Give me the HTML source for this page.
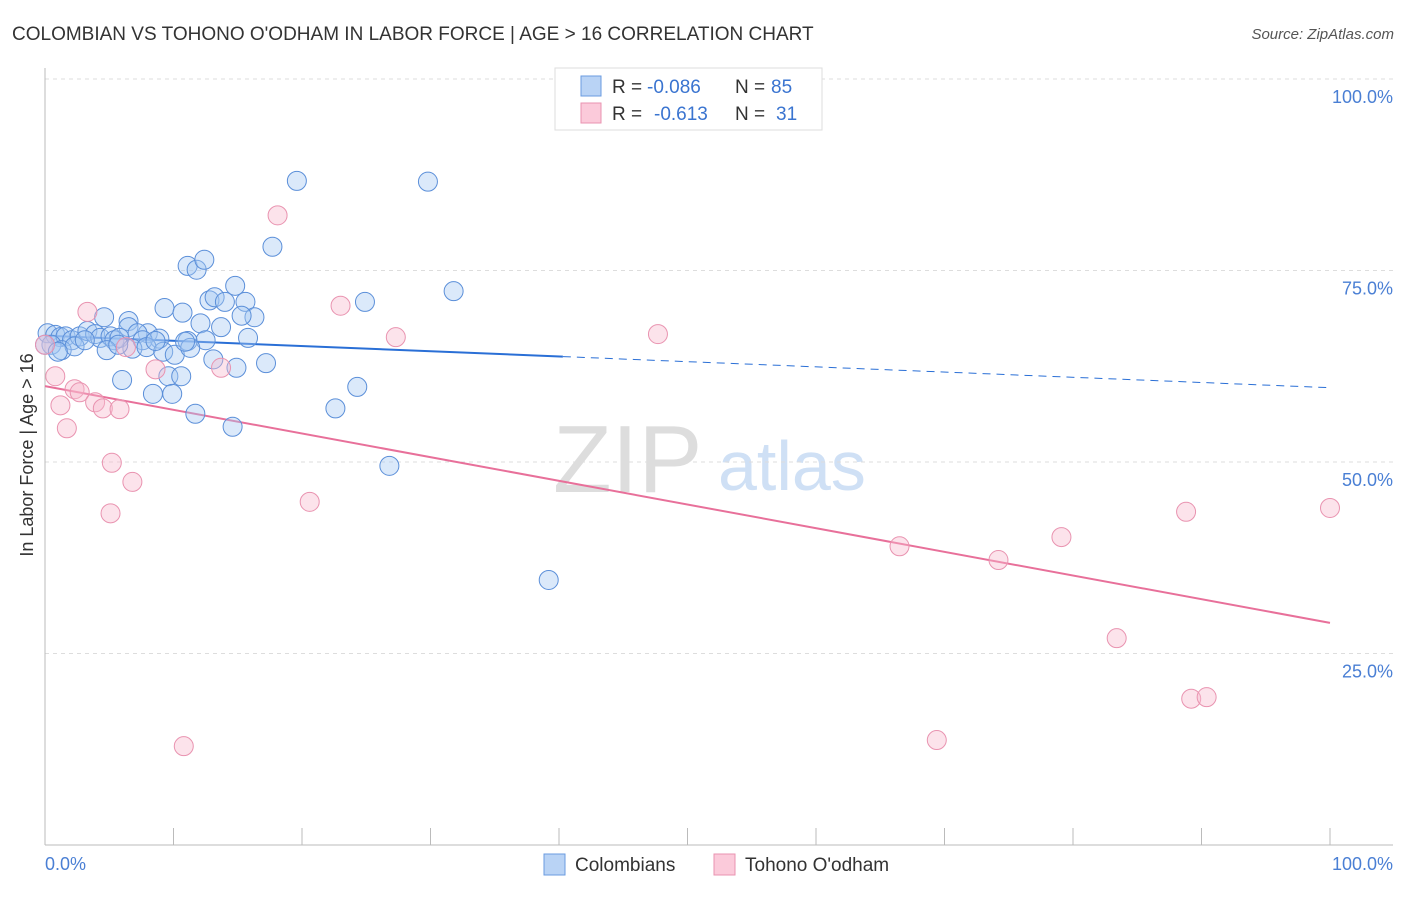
<!DOCTYPE html>
<html><head><meta charset="utf-8"><style>
body{margin:0;background:#fff;font-family:"Liberation Sans",sans-serif;}
svg text{font-family:"Liberation Sans",sans-serif;}
</style></head><body>
<svg id="chart" width="1406" height="892" xmlns="http://www.w3.org/2000/svg">
<text x="12" y="40" font-size="19" fill="#333">COLOMBIAN VS TOHONO O'ODHAM IN LABOR FORCE | AGE &gt; 16 CORRELATION CHART</text>
<text x="1394" y="39" font-size="15" fill="#555" font-style="italic" text-anchor="end">Source: ZipAtlas.com</text>
<g>
<text x="553" y="492" font-size="96" fill="#ddd" font-family="Liberation Serif,serif">ZIP</text>
<text x="718" y="490" font-size="70" fill="#cfe0f5">atlas</text>
</g>
<g id="grid"></g>
<g id="axes"></g>
<g id="lines"></g>
<g id="pts"></g>
<text transform="translate(33,455) rotate(-90)" font-size="18" fill="#333" text-anchor="middle">In Labor Force | Age &gt; 16</text>
<text x="45" y="870" font-size="18" fill="#4a7fd4">0.0%</text>
<text x="1393" y="870" font-size="18" fill="#4a7fd4" text-anchor="end">100.0%</text>
<g>
<rect x="555" y="68" width="267" height="62" fill="#fff" stroke="#ddd"/>
<rect x="581" y="76" width="20" height="20" fill="#b9d3f5" stroke="#6a9be0"/>
<rect x="581" y="103" width="20" height="20" fill="#fbcada" stroke="#e993b0"/>
<text x="612" y="93" font-size="19" fill="#333">R =</text>
<text x="647" y="93" font-size="19" fill="#3a74d0">-0.086</text>
<text x="735" y="93" font-size="19" fill="#333">N =</text>
<text x="771" y="93" font-size="19" fill="#3a74d0">85</text>
<text x="612" y="120" font-size="19" fill="#333">R =</text>
<text x="654" y="120" font-size="19" fill="#3a74d0">-0.613</text>
<text x="735" y="120" font-size="19" fill="#333">N =</text>
<text x="776" y="120" font-size="19" fill="#3a74d0">31</text>
</g>
<g>
<rect x="544" y="854" width="21" height="21" fill="#b9d3f5" stroke="#6a9be0"/>
<text x="575" y="871" font-size="19" fill="#333">Colombians</text>
<rect x="714" y="854" width="21" height="21" fill="#fbcada" stroke="#e993b0"/>
<text x="745" y="871" font-size="19" fill="#333">Tohono O'odham</text>
</g>
</svg>
<script>
const yTicks=[100,75,50,25];
const yTickLabels=["100.0%","75.0%","50.0%","25.0%"];
const xTicks=[10,20,30,40,50,60,70,80,90,100];
const blueX=[19.6,29.8,17.7,11.1,11.8,12.4,14.8,31.8,9.3,12.8,13.2,14.0,15.6,24.9,10.7,16.3,15.3,4.6,6.5,6.5,12.1,13.7,8.0,8.9,11.1,12.5,15.8,0.2,0.8,1.2,1.6,2.1,2.7,3.3,3.9,4.3,5.1,5.4,5.8,7.2,7.6,0.5,1.3,2.3,4.8,6.8,7.9,9.2,10.1,11.3,13.1,14.9,17.2,6.0,9.6,10.6,8.4,9.9,24.3,11.7,14.6,22.6,26.8,39.2,0,1.0,3.1,5.7,8.6,10.9];
const blueY=[86.7,86.6,78.1,75.6,75.1,76.4,73.0,72.3,70.1,71.1,71.5,70.9,70.9,70.9,69.5,68.9,69.1,68.9,68.4,67.6,68.1,67.6,66.8,66.1,65.8,65.9,66.2,66.8,66.6,66.3,66.4,65.9,66.4,67.1,66.7,66.2,66.4,65.9,66.2,66.8,65.9,65.3,64.6,65.1,64.6,64.8,65.0,64.4,64.0,64.9,63.4,62.3,62.9,60.7,61.2,61.2,58.9,58.9,59.8,56.3,54.6,57.0,49.5,34.6,65.3,64.4,65.9,65.3,65.8,65.7];
const pinkX=[18.1,23.0,3.3,27.3,47.7,0.8,8.6,13.7,1.2,2.3,2.7,3.9,4.5,5.8,1.7,5.2,6.8,5.1,20.6,10.8,66.5,74.2,79.1,88.8,100,83.4,89.2,90.4,69.4,0,6.3];
const pinkY=[82.2,70.4,69.6,66.3,66.7,61.2,62.1,62.3,57.4,59.5,59.1,57.8,57.0,56.9,54.4,49.9,47.4,43.3,44.8,12.9,39.0,37.2,40.2,43.5,44.0,27.0,19.1,19.3,13.7,65.3,65.0];
const blueTrend=[66.5,59.7];
const pinkTrend=[59.9,29.0];
const NS="http://www.w3.org/2000/svg";
const sx=v=>45+v*12.85, sy=v=>845-v*7.66;
function mk(tag,attrs,parent){const e=document.createElementNS(NS,tag);for(const k in attrs)e.setAttribute(k,attrs[k]);document.getElementById(parent).appendChild(e);return e;}
yTicks.forEach((t,i)=>{
 const l=mk('line',{x1:45,x2:1393,y1:sy(t),y2:sy(t),stroke:'#ddd','stroke-dasharray':'4,4'},'grid');
 
 
 const tx=mk('text',{x:1393,y:sy(t)+24,'font-size':18,fill:'#4a7fd4','text-anchor':'end'},'grid');
 tx.textContent=yTickLabels[i];
 
 
});
let a=mk('line',{x1:45,x2:45,y1:68,y2:845,stroke:'#bbb'},'axes');


a=mk('line',{x1:45,x2:1393,y1:845,y2:845,stroke:'#bbb'},'axes');


xTicks.forEach(t=>{const l=mk('line',{x1:sx(t),x2:sx(t),y1:828,y2:845,stroke:'#bbb'},'axes');
 
 });
let tl=mk('line',{x1:sx(0),y1:sy(blueTrend[0]),x2:sx(40.3),y2:sy(blueTrend[0]+(blueTrend[1]-blueTrend[0])*0.403),stroke:'#2a6fd6','stroke-width':2},'lines');


tl=mk('line',{x1:sx(40.3),y1:sy(blueTrend[0]+(blueTrend[1]-blueTrend[0])*0.403),x2:sx(100),y2:sy(blueTrend[1]),stroke:'#2a6fd6','stroke-width':1,'stroke-dasharray':'8,6'},'lines');


tl=mk('line',{x1:sx(0),y1:sy(pinkTrend[0]),x2:sx(100),y2:sy(pinkTrend[1]),stroke:'#e8709a','stroke-width':2},'lines');


blueX.forEach((x,i)=>{const c=mk('circle',{cx:sx(x),cy:sy(blueY[i]),r:9.5,fill:'rgba(165,199,242,0.4)',stroke:'#5b8fd9','stroke-width':1},'pts');
 
 });
pinkX.forEach((x,i)=>{const c=mk('circle',{cx:sx(x),cy:sy(pinkY[i]),r:9.5,fill:'rgba(247,186,205,0.4)',stroke:'#e993b0','stroke-width':1},'pts');
 
 });
</script>
</body></html>
